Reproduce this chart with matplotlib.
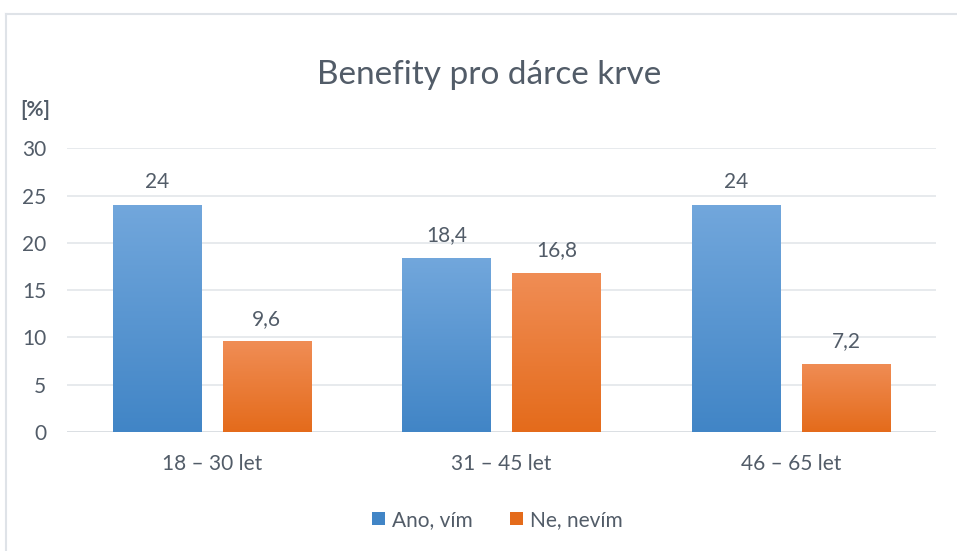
import numpy as np
import matplotlib
matplotlib.use("Agg")
import matplotlib.pyplot as plt
from matplotlib.lines import Line2D
from matplotlib.patches import Patch
from matplotlib.colors import LinearSegmentedColormap

# Data
categories = ["18 – 30 let", "31 – 45 let", "46 – 65 let"]
series_names = ["Ano, vím", "Ne, nevím"]
ano_vim = [24, 18.4, 24]
ne_nevim = [9.6, 16.8, 7.2]
y_ticks = [0, 5, 10, 15, 20, 25, 30]

TEXT = "#525c68"
GRID = "#e3e6ea"
BLUE_TOP, BLUE_BOT = "#72a7dc", "#4185c6"
ORANGE_TOP, ORANGE_BOT = "#f08d55", "#e46b1b"

plt.rcParams["font.family"] = ["Lato", "DejaVu Sans"]

fig = plt.figure(figsize=(9.57, 5.51), dpi=100)
ax = fig.add_axes([0.070, 0.216, 0.908, 0.515])

x = np.arange(len(categories))
width = 0.305
offset = 0.19

bars_a = ax.bar(x - offset, ano_vim, width, color=BLUE_BOT, label=series_names[0], zorder=2)
bars_b = ax.bar(x + offset, ne_nevim, width, color=ORANGE_BOT, label=series_names[1], zorder=2)

# vertical gradient fill inside each bar
grad = np.linspace(0, 1, 256).reshape(-1, 1)
for bars, top, bot in ((bars_a, BLUE_TOP, BLUE_BOT), (bars_b, ORANGE_TOP, ORANGE_BOT)):
    cmap = LinearSegmentedColormap.from_list("g", [bot, top])
    for b in bars:
        x0, y0 = b.get_x(), b.get_y()
        w, h = b.get_width(), b.get_height()
        im = ax.imshow(grad, extent=(x0, x0 + w, y0, y0 + h), origin="lower",
                       cmap=cmap, aspect="auto", zorder=3)
        im.set_clip_path(b)

# value labels
for bars, vals in ((bars_a, ano_vim), (bars_b, ne_nevim)):
    for b, v in zip(bars, vals):
        txt = f"{v:g}".replace(".", ",")
        ax.annotate(txt, (b.get_x() + b.get_width() / 2, v), xytext=(0, 9),
                    textcoords="offset points", ha="center", va="bottom",
                    fontsize=15, color=TEXT)

ax.set_xlim(-0.5, 2.5)
ax.set_ylim(0, 30)
ax.set_yticks(y_ticks)
ax.set_yticklabels([str(t) for t in y_ticks])
ax.set_xticks(x)
ax.set_xticklabels(categories)
ax.tick_params(axis="both", length=0, labelsize=15, colors=TEXT)
ax.tick_params(axis="x", pad=16)
ax.tick_params(axis="y", pad=15)
ax.yaxis.grid(True, color=GRID, linewidth=1.2, zorder=0)
ax.set_axisbelow(True)
for s in ax.spines.values():
    s.set_visible(False)
ax.axhline(0, color="#d9dde2", linewidth=1.2, zorder=1)

fig.text(0.511, 0.864, "Benefity pro dárce krve", fontsize=24, color=TEXT,
         ha="center", va="center")
fig.text(0.021, 0.80, "[%]", fontsize=15, fontweight="bold", color=TEXT,
         ha="left", va="center")

handles = [Patch(facecolor=BLUE_BOT), Patch(facecolor=ORANGE_BOT)]
fig.legend(handles, series_names, loc="center", bbox_to_anchor=(0.52, 0.056),
           ncol=2, frameon=False, fontsize=15, handlelength=0.6, handleheight=0.6,
           handletextpad=0.35, columnspacing=1.8, labelcolor=TEXT)

# chart frame edges
fig.add_artist(Line2D([0.006, 1.0], [1 - 14 / 551] * 2, color="#dfe3e8", linewidth=1.5,
                      transform=fig.transFigure))
fig.add_artist(Line2D([0.006, 0.006], [0, 1 - 14 / 551], color="#dfe3e8", linewidth=1.5,
                      transform=fig.transFigure))

fig.savefig("out.png", dpi=100)
